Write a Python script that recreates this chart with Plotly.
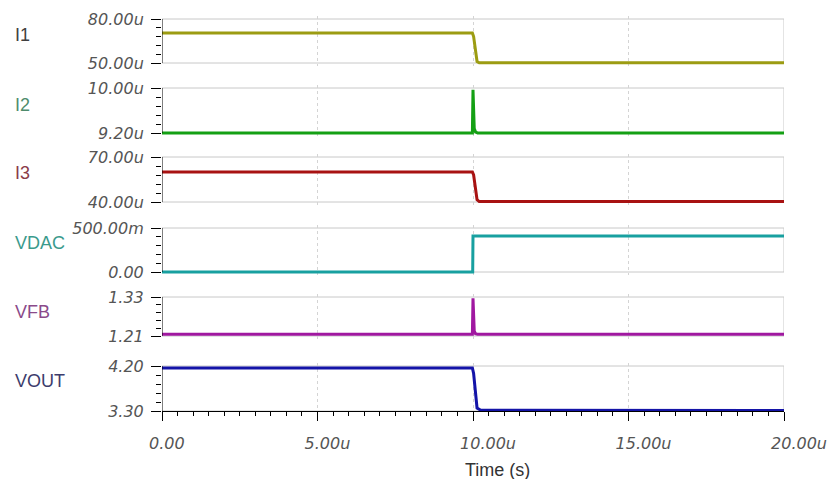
import plotly.graph_objects as go

# ---------------- data (time in microseconds) ----------------
names = ["I1", "I2", "I3", "VDAC", "VFB", "VOUT"]

t_I1 = [0.0, 9.98, 10.02, 10.08, 10.13, 10.20, 20.0]
v_I1 = [70.5, 70.5, 68.0, 57.0, 51.0, 50.1, 50.1]          # uA

t_I2 = [0.0, 9.98, 10.0, 10.015, 10.04, 10.08, 10.15, 20.0]
v_I2 = [9.2, 9.2, 9.97, 9.55, 9.28, 9.22, 9.2, 9.2]          # uA

t_I3 = [0.0, 9.98, 10.02, 10.08, 10.13, 10.20, 20.0]
v_I3 = [60.0, 60.0, 58.0, 48.0, 41.5, 40.3, 40.3]            # uA

t_VDAC = [0.0, 9.99, 10.0, 20.0]
v_VDAC = [0.0, 0.0, 0.41, 0.41]                              # V

t_VFB = [0.0, 9.98, 10.0, 10.015, 10.04, 10.08, 10.15, 20.0]
v_VFB = [1.215, 1.215, 1.326, 1.27, 1.225, 1.217, 1.215, 1.215]  # V

t_VOUT = [0.0, 9.98, 10.02, 10.08, 10.13, 10.25, 20.0]
v_VOUT = [4.16, 4.16, 4.05, 3.60, 3.36, 3.315, 3.31]         # V

y_lo = [50.0, 9.2, 40.0, 0.0, 1.21, 3.30]
y_hi = [80.0, 10.0, 70.0, 0.5, 1.33, 4.20]
y_lo_text = ["50.00u", "9.20u", "40.00u", "0.00", "1.21", "3.30"]
y_hi_text = ["80.00u", "10.00u", "70.00u", "500.00m", "1.33", "4.20"]

x_ticks = [0, 5, 10, 15, 20]
x_tick_text = ["0.00", "5.00u", "10.00u", "15.00u", "20.00u"]

# ---------------- styling ----------------
# the page body has an 8px margin, so the figure is drawn at (8, 8)
OFF = 8
W, H = 835 - 2 * OFF, 487 - 2 * OFF


def px_x(p):
    return (p - OFF) / W


def px_y(p):
    return 1 - (p - OFF) / H


X_LEFT, X_RIGHT = 162, 784
panel_px = [(19, 63), (88, 133), (157, 202), (228, 272), (297, 336), (366, 411)]
PAD = 3
line_colors = ["#9c9c12", "#14a014", "#a81212", "#18a0a0", "#a018a0", "#1414a8"]
label_colors = ["#404040", "#4e8c6c", "#8a3c48", "#3a9a8c", "#8a4a8a", "#3c3c6c"]
label_px_y = [35, 105, 173, 243, 312, 381]

series = [(t_I1, v_I1), (t_I2, v_I2), (t_I3, v_I3),
          (t_VDAC, v_VDAC), (t_VFB, v_VFB), (t_VOUT, v_VOUT)]

tick_font = dict(family="DejaVu Sans", size=16, color="#555555", style="italic")
NB = "\u00a0"
x_tick_text_padded = [x_tick_text[0] + NB * 4, x_tick_text[1] + NB * 2] + x_tick_text[2:]

fig = go.Figure()
layout = dict(
    width=W, height=H, margin=dict(l=0, r=0, t=0, b=0),
    paper_bgcolor="white", plot_bgcolor="white", showlegend=False,
)
shapes = []
annotations = []

for i, (name, (tt, vv)) in enumerate(zip(names, series)):
    n = i + 1
    xs = "" if n == 1 else str(n)
    top, bot = panel_px[i]
    lo, hi = y_lo[i], y_hi[i]
    per_px = (hi - lo) / (bot - top)
    rng = [lo - PAD * per_px, hi + PAD * per_px]
    dom = [px_y(bot + PAD), px_y(top - PAD)]

    fig.add_trace(go.Scatter(x=tt, y=vv, mode="lines", name=name,
                             line=dict(color=line_colors[i], width=3),
                             xaxis="x" + xs, yaxis="y" + xs, hoverinfo="skip"))

    last = (n == 6)
    xa = dict(
        domain=[px_x(X_LEFT), px_x(X_RIGHT)], range=[0, 20], automargin=False,
        showgrid=True, gridcolor="#d4d4d4", griddash="dot", gridwidth=1,
        zeroline=False, tickvals=x_ticks, anchor="y" + xs,
    )
    if n > 1:
        xa["matches"] = "x"
    if last:
        xa.update(
            anchor="free", position=px_y(bot),
            showline=True, linecolor="black", linewidth=1,
            ticks="outside", ticklen=9, tickcolor="black",
            ticktext=x_tick_text_padded, showticklabels=True,
            tickfont=tick_font, ticklabelshift=15, ticklabelstandoff=9,
            ticklabeloverflow="allow",
            minor=dict(dtick=0.5, tick0=0, ticks="outside", ticklen=4,
                       tickcolor="black", showgrid=False),
        )
    else:
        xa.update(showline=False, ticks="", showticklabels=False)
    layout["xaxis" + xs] = xa

    layout["yaxis" + xs] = dict(
        domain=dom, range=rng, automargin=False, anchor="x" + xs,
        showgrid=False, zeroline=False, showline=False,
        tickvals=[lo, hi], ticktext=[y_lo_text[i], y_hi_text[i]],
        ticks="outside", ticklen=10, tickcolor="black",
        tickfont=tick_font, ticklabelstandoff=4, ticklabeloverflow="allow",
        minor=dict(tick0=lo, dtick=(hi - lo) / 5, ticks="outside", ticklen=5,
                   tickcolor="black", showgrid=False),
    )

    xr, yr = "x" + xs, "y" + xs
    gray = dict(color="#c8c8c8", width=1)
    shapes += [
        dict(type="line", xref=xr, yref=yr, x0=0, x1=20, y0=hi, y1=hi, line=gray, layer="below"),
        dict(type="line", xref=xr, yref=yr, x0=0, x1=20, y0=lo, y1=lo, line=gray, layer="below"),
        dict(type="line", xref=xr, yref=yr, x0=20, x1=20, y0=lo, y1=hi, line=gray, layer="below"),
        dict(type="line", xref=xr, yref=yr, x0=0, x1=0, y0=lo, y1=hi,
             line=dict(color="black", width=1), layer="above"),
    ]

    annotations.append(dict(
        text=name, xref="paper", yref="paper", x=px_x(13), y=px_y(label_px_y[i]),
        xanchor="left", yanchor="middle", showarrow=False,
        font=dict(family="Liberation Sans", size=18, color=label_colors[i]),
    ))

annotations.append(dict(
    text="Time (s)", xref="paper", yref="paper", x=px_x(497), y=px_y(470),
    xanchor="center", yanchor="middle", showarrow=False,
    font=dict(family="Liberation Sans", size=18, color="#333333"),
))

layout["shapes"] = shapes
layout["annotations"] = annotations
fig.update_layout(**layout)
fig.write_html("out.html")
